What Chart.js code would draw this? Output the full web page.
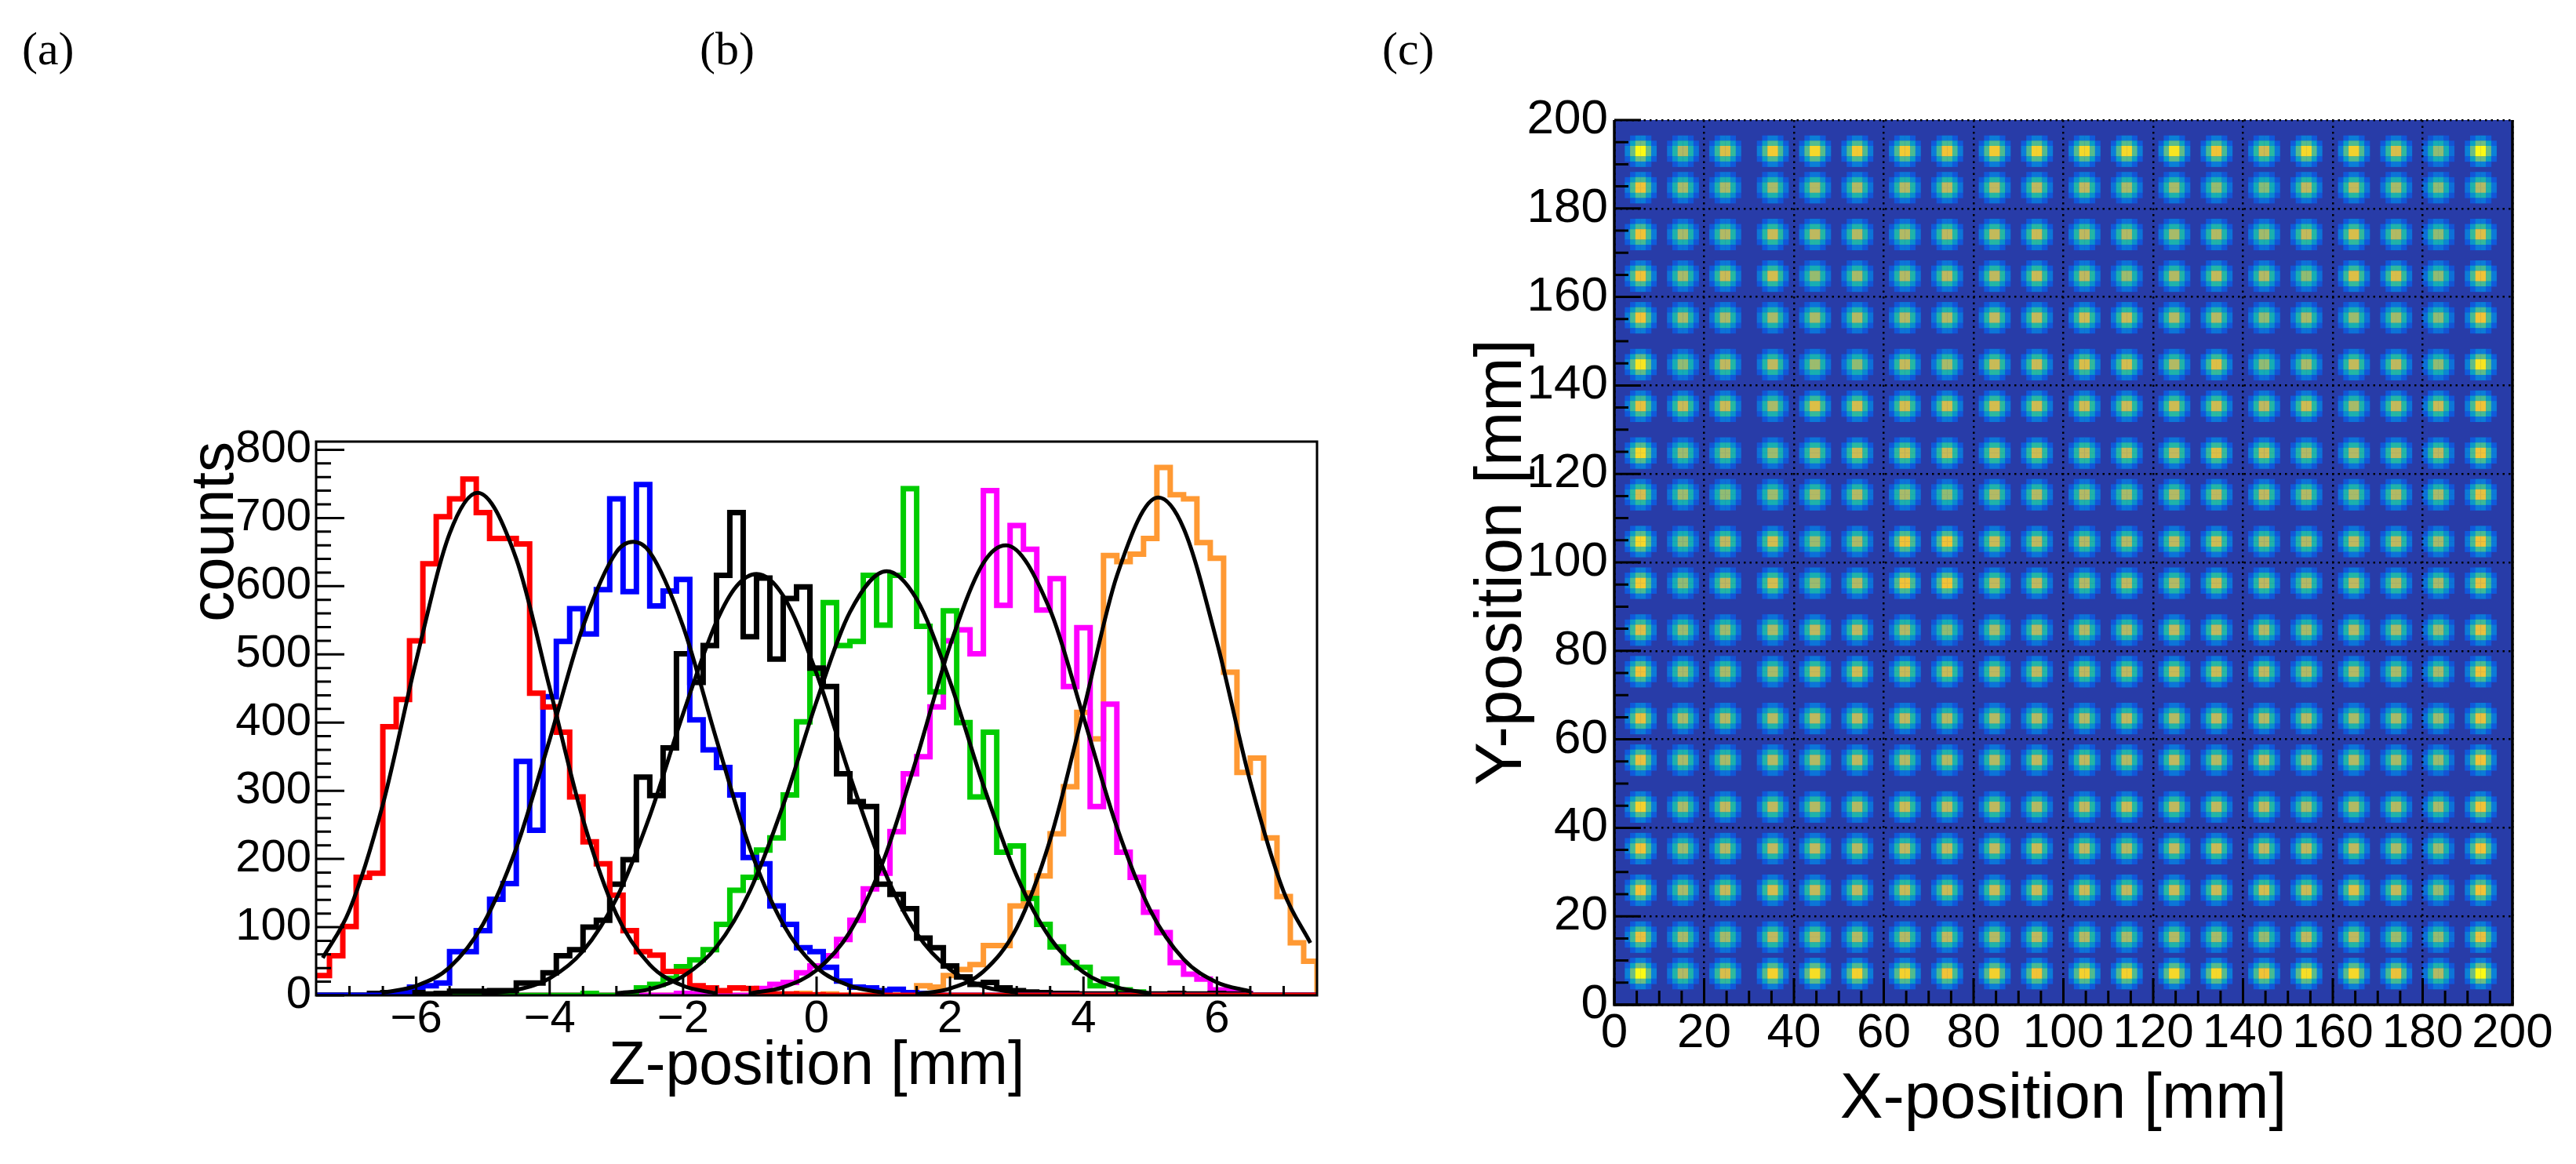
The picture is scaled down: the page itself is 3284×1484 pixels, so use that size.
<!DOCTYPE html>
<html>
<head>
<meta charset="utf-8">
<title>Z and XY position</title>
<script src="https://cdn.jsdelivr.net/npm/chart.js@4/dist/chart.umd.min.js"></script>
<style>
    html, body { margin: 0; padding: 0; background: #fff; }
    #page { position: relative; width: 3284px; height: 1484px; overflow: hidden; }
    canvas { position: absolute; top: 0; }
    #chartZ { left: 0; }
    #chartXY { left: 1740px; }
    .panel { position: absolute; top: 28px; font: 60px "Liberation Serif"; color: #000; }
</style>
</head>
<body>
<div id="page">
    <canvas id="chartZ" width="1740" height="1484"></canvas>
    <canvas id="chartXY" width="1544" height="1484"></canvas>
    <div class="panel" style="left:28px">(a)</div>
    <div class="panel" style="left:892px">(b)</div>
    <div class="panel" style="left:1762px">(c)</div>
</div>

<script>
    // (b) histogram, 75 bins of 0.2 mm between -7.5 and 7.5
    var zMin = -7.5;
    var zMax = 7.5;
    var zBinWidth = 0.2;

    var redCounts = [29,58,101,173,179,394,434,520,633,702,
        728,757,708,670,670,662,443,423,386,291,
        225,193,147,95,64,59,35,35,14,11,
        7,11,10,3,2,2,1,1,0,0,
        0,0,0,0,0,0,0,0,0,0,0,0,0,0,0,0,0,0,0,0,0,0,0,0,0,0,0,0,0,0,0,0,0,0,0];
    var blueCounts = [0,0,0,0,0,0,4,12,14,18,
        64,64,95,141,164,343,242,438,519,567,
        530,595,728,592,749,571,593,610,404,360,
        334,294,202,193,131,104,70,64,41,21,
        12,11,7,9,4,3,0,0,0,0,0,0,0,0,0,0,0,0,0,0,0,0,0,0,0,0,0,0,0,0,0,0,0,0,0];
    var blackCounts = [0,0,0,0,3,4,5,4,2,3,
        6,6,6,7,7,18,18,33,58,67,
        100,110,163,199,320,293,363,501,459,513,
        616,708,526,612,493,582,599,480,453,325,
        284,277,163,148,127,84,70,43,27,16,
        19,11,7,5,4,3,3,2,2,2,
        2,3,2,2,3,2,2,3,2,2,
        0,0,0,0,0];
    var greenCounts = [0,0,0,0,0,0,0,0,0,0,0,0,0,0,0,0,0,0,0,0,
        3,0,0,1,11,16,25,42,52,67,
        104,154,173,213,231,294,401,472,576,513,
        519,616,543,616,743,541,445,564,400,291,
        386,210,219,142,104,71,48,41,14,24,
        8,5,0,0,0,0,0,0,0,0,0,0,0,0,0];
    var magentaCounts = [0,0,0,0,0,0,0,0,0,0,0,0,0,0,0,0,0,0,0,0,0,0,0,0,0,0,0,3,2,0,0,0,0,
        10,16,19,33,43,58,82,
        110,156,179,240,325,350,423,520,536,501,
        740,572,689,654,565,611,453,539,277,427,
        210,173,122,92,48,31,24,8,8,3,
        0,0,0,0,0];
    var orangeCounts = [0,0,0,0,0,0,0,0,0,0,0,0,0,0,0,0,0,0,0,0,0,0,0,0,0,0,0,0,0,0,0,0,0,0,0,0,
        3,0,2,0,0,0,0,0,0,
        14,12,29,38,45,73,73,131,150,175,
        237,306,415,376,645,636,647,670,774,734,
        728,664,641,474,327,348,231,145,77,50];

    // fitted curves, read at points along each curve
    var redFitZ = [-7.4,-7,-6.5,-6,-5.5,-5.08,-4.5,-4,-3.5,-3,-2.5,-2,-1.5];
    var redFit = [55,125,280,491,677,737,640,451,258,119,45,14,3];
    var blueFitZ = [-6.5,-6,-5.5,-5,-4.5,-4,-3.5,-3,-2.75,-2.5,-2,-1.5,-1,-0.5,0,0.5,1];
    var blueFit = [4,14,41,104,216,375,541,650,665,650,541,375,216,104,41,14,4];
    var blackFitZ = [-5,-4.5,-4,-3.5,-3,-2.5,-2,-1.5,-1.2,-0.9,-0.5,0,0.5,1,1.5,2,2.5,3];
    var blackFit = [2,8,25,65,142,263,413,548,600,618,586,472,322,186,91,38,13,4];
    var greenFitZ = [-3,-2.5,-2,-1.5,-1,-0.5,0,0.5,1.05,1.5,2,2.5,3,3.5,4,4.5,5];
    var greenFit = [3,9,28,71,153,279,431,562,622,581,460,308,175,84,34,12,3];
    var magentaFitZ = [-1,-0.5,0,0.5,1,1.5,2,2.5,2.84,3.5,4,4.5,5,5.5,6,6.5];
    var magentaFit = [3,12,37,93,197,348,513,634,660,565,408,247,125,53,19,6];
    var orangeFitZ = [1.5,2,2.5,3,3.5,4,4.5,5.12,5.5,6,6.5,7,7.4];
    var orangeFit = [2,10,35,99,228,418,615,730,685,518,313,152,77];

    var zTicks = [-6,-4,-2,0,2,4,6];
    var zMinorTicks = [-7,-6.5,-5.5,-5,-4.5,-3.5,-3,-2.5,-1.5,-1,-0.5,0.5,1,1.5,2.5,3,3.5,4.5,5,5.5,6.5,7];
    var countTicks = [0,100,200,300,400,500,600,700,800];
    var countMinorTicks = [20,40,60,80,120,140,160,180,220,240,260,280,320,340,360,380,
        420,440,460,480,520,540,560,580,620,640,660,680,720,740,760,780];

    // (c) map: spot centres in mm and the peak height of each spot, in percent
    var spotCols = [5.7,15.2,25.2,34.8,44.6,54.6,64.6,74.6,84.3,94.5,104.7,114.6,124.6,134.3,144.4,154.4,164.2,173.7,183.6,193.2];
    var spotRows = [193.5,184.5,174.6,164.8,155,145,135,125,115,105,95,85,75,65,55,45,35,25.5,15.5,6.6];
    var spotPeaks = [
        [100,80,88,93,95,93,93,92,93,94,95,95,97,92,85,95,94,87,74,100],
        [92,78,78,78,80,80,80,82,82,82,82,78,78,75,72,82,83,78,74,80],
        [92,78,80,84,82,80,80,82,83,84,82,80,78,80,77,83,87,80,74,88],
        [92,78,84,86,75,78,80,82,82,84,82,76,80,83,80,74,88,87,74,92],
        [92,78,78,78,78,80,80,80,82,83,85,84,80,80,74,78,76,77,74,92],
        [97,74,82,82,76,74,83,78,84,84,87,86,80,88,74,78,83,82,74,97],
        [90,84,84,78,88,86,86,86,86,85,85,84,85,85,82,85,78,83,84,92],
        [95,76,78,76,82,85,86,84,84,85,83,83,83,88,85,80,80,82,82,92],
        [86,76,74,76,80,80,78,74,80,80,80,78,80,82,82,80,78,80,78,90],
        [95,74,82,86,76,79,92,92,84,82,80,80,82,85,80,80,82,82,78,92],
        [93,74,82,86,76,80,92,92,83,82,80,82,80,84,82,80,82,80,78,90],
        [88,76,76,78,82,82,80,74,78,80,80,80,82,82,80,78,80,78,76,90],
        [92,78,78,78,84,85,84,84,82,82,82,82,84,84,82,80,80,78,78,92],
        [90,78,80,80,82,82,82,80,80,80,80,82,80,82,80,80,78,78,76,90],
        [90,78,78,80,80,82,80,80,80,82,82,80,82,80,82,80,80,78,76,92],
        [94,78,82,82,80,80,84,82,82,80,82,84,82,82,82,78,80,80,78,92],
        [92,76,80,82,82,80,82,82,82,84,82,80,82,84,82,82,82,78,76,92],
        [92,78,83,86,83,82,84,84,84,84,84,82,84,84,86,84,88,83,75,92],
        [90,78,77,82,82,80,80,82,80,82,80,78,80,78,75,82,82,76,75,90],
        [100,80,87,94,96,94,94,92,94,92,94,94,95,95,92,96,95,91,80,100]
    ];
    // shape of one spot on the map bins, as seen in the picture
    var spotShape = [
        [0,0.14,0.3,0.3,0.14,0],
        [0.14,0.44,0.68,0.68,0.44,0.14],
        [0.3,0.68,1,1,0.68,0.3],
        [0.3,0.68,1,1,0.68,0.3],
        [0.14,0.44,0.68,0.68,0.44,0.14],
        [0,0.14,0.3,0.3,0.14,0]
    ];
    var mapBins = 170;
    var mapTicks = [0,20,40,60,80,100,120,140,160,180,200];
    var mapMinorTicks = [5,10,15,25,30,35,45,50,55,65,70,75,85,90,95,105,110,115,125,130,135,145,150,155,165,170,175,185,190,195];

    var paletteStops = [0,0.12,0.3,0.45,0.58,0.7,0.82,0.92,1];
    var paletteColors = [[40,60,168],[16,88,220],[10,130,215],[8,165,195],[40,185,160],[120,190,125],[190,185,95],[240,195,55],[252,250,20]];

    function mapColor(v) {
        for (var i = 1; i < paletteStops.length; i++) {
            if (v <= paletteStops[i]) {
                var t = (v - paletteStops[i - 1]) / (paletteStops[i] - paletteStops[i - 1]);
                var a = paletteColors[i - 1], b = paletteColors[i];
                return 'rgb(' + Math.round(a[0] + (b[0] - a[0]) * t) + ',' + Math.round(a[1] + (b[1] - a[1]) * t) + ',' + Math.round(a[2] + (b[2] - a[2]) * t) + ')';
            }
        }
        return 'rgb(252,250,20)';
    }

    function histPoints(counts) {
        var pts = [];
        for (var k = 0; k < counts.length; k++) {
            pts.push({ x: zMin + k * zBinWidth, y: counts[k] });
        }
        pts.push({ x: zMax, y: counts[counts.length - 1] });
        pts.push({ x: zMax, y: 0 });
        return pts;
    }

    function fitPoints(zs, values) {
        return zs.map(function (z, i) { return { x: z, y: values[i] }; });
    }

    function histSet(label, counts, color, order) {
        return {
            label: label, data: histPoints(counts), borderColor: color, borderWidth: 7,
            stepped: true, pointRadius: 0, fill: false, order: order,
            borderJoinStyle: 'miter', borderCapStyle: 'butt'
        };
    }

    function fitSet(label, zs, values) {
        return {
            label: label, data: fitPoints(zs, values), borderColor: '#000', borderWidth: 5,
            cubicInterpolationMode: 'monotone', pointRadius: 0, fill: false, order: 0
        };
    }

    // ticks inside the frame, ROOT style, plus frame and background
    function framePlugin(cfg) {
        return {
            id: 'frame',
            beforeDatasetsDraw: function (chart) {
                if (!cfg.background) return;
                var a = chart.chartArea;
                chart.ctx.save();
                chart.ctx.fillStyle = cfg.background;
                chart.ctx.fillRect(a.left, a.top, a.right - a.left, a.bottom - a.top);
                chart.ctx.restore();
            },
            afterDatasetsDraw: function (chart) {
                var ctx = chart.ctx, a = chart.chartArea, sx = chart.scales.x, sy = chart.scales.y;
                function xTick(v, len) {
                    var p = sx.getPixelForValue(v);
                    ctx.moveTo(p, a.bottom);
                    ctx.lineTo(p, a.bottom - len);
                }
                function yTick(v, len) {
                    var p = sy.getPixelForValue(v);
                    ctx.moveTo(a.left, p);
                    ctx.lineTo(a.left + len, p);
                }
                ctx.save();
                ctx.strokeStyle = '#000';
                ctx.lineWidth = cfg.tickWidth;
                ctx.beginPath();
                cfg.xMajor.forEach(function (v) { xTick(v, cfg.xMajorLen); });
                cfg.xMinor.forEach(function (v) { xTick(v, cfg.xMinorLen); });
                cfg.yMajor.forEach(function (v) { yTick(v, cfg.yMajorLen); });
                cfg.yMinor.forEach(function (v) { yTick(v, cfg.yMinorLen); });
                ctx.stroke();
                ctx.lineWidth = cfg.frameWidth;
                ctx.beginPath();
                ctx.moveTo(a.left, a.top);
                ctx.lineTo(a.left, a.bottom);
                ctx.lineTo(a.right, a.bottom);
                ctx.lineTo(a.right, a.top);
                if (cfg.closeTop) ctx.closePath();
                ctx.stroke();
                ctx.restore();
            }
        };
    }

    function axisFont(size) {
        return { family: '"Liberation Sans"', size: size, lineHeight: 1.2 };
    }

    function createGraphZ() {
        var ctx = document.getElementById('chartZ').getContext('2d');
        new Chart(ctx, {
            type: 'line',
            data: {
                datasets: [
                    fitSet('fit red', redFitZ, redFit),
                    fitSet('fit blue', blueFitZ, blueFit),
                    fitSet('fit black', blackFitZ, blackFit),
                    fitSet('fit green', greenFitZ, greenFit),
                    fitSet('fit magenta', magentaFitZ, magentaFit),
                    fitSet('fit orange', orangeFitZ, orangeFit),
                    histSet('red', redCounts, '#ff0000', 1),
                    histSet('blue', blueCounts, '#0000ff', 2),
                    histSet('black', blackCounts, '#000000', 3),
                    histSet('green', greenCounts, '#00cc00', 4),
                    histSet('magenta', magentaCounts, '#ff00ff', 5),
                    histSet('orange', orangeCounts, '#ff9933', 6)
                ]
            },
            options: {
                responsive: false,
                animation: false,
                events: [],
                layout: { padding: { left: 236, top: 563, right: 61, bottom: 85 } },
                plugins: { legend: { display: false }, tooltip: { enabled: false } },
                scales: {
                    x: {
                        type: 'linear', min: zMin, max: zMax, bounds: 'data',
                        afterBuildTicks: function (axis) { axis.ticks = zTicks.map(function (v) { return { value: v }; }); },
                        afterFit: function (axis) { axis.height = 130; },
                        grid: { display: false, drawTicks: false }, border: { display: false },
                        ticks: {
                            color: '#000', font: axisFont(58), padding: -4, autoSkip: false, maxRotation: 0,
                            callback: function (v) { return String(v).replace('-', '\u2212'); }
                        },
                        title: { display: true, text: 'Z-position [mm]', color: '#000', font: { family: '"Liberation Sans"', size: 77, lineHeight: 1 }, padding: 0 }
                    },
                    y: {
                        type: 'linear', min: 0, max: 812, bounds: 'data',
                        afterBuildTicks: function (axis) { axis.ticks = countTicks.map(function (v) { return { value: v }; }); },
                        afterFit: function (axis) { axis.width = 167; },
                        grid: { display: false, drawTicks: false }, border: { display: false },
                        ticks: { color: '#000', font: axisFont(58), padding: 6, autoSkip: false },
                        title: { display: true, text: 'counts', align: 'end', color: '#000', font: { family: '"Liberation Sans"', size: 78, lineHeight: 1 }, padding: 0 }
                    }
                }
            },
            plugins: [framePlugin({
                tickWidth: 3, frameWidth: 3, closeTop: true,
                xMajor: zTicks, xMinor: zMinorTicks, xMajorLen: 24, xMinorLen: 12,
                yMajor: countTicks, yMinor: countMinorTicks, yMajorLen: 36, yMinorLen: 19
            })]
        });
    }

    function mapCells() {
        var cells = [], colors = [];
        var binSize = 200 / mapBins;
        for (var r = 0; r < spotRows.length; r++) {
            for (var c = 0; c < spotCols.length; c++) {
                var ci = Math.round(spotCols[c] / binSize);
                var ri = Math.round(spotRows[r] / binSize);
                for (var a = 0; a < spotShape.length; a++) {
                    for (var b = 0; b < spotShape[a].length; b++) {
                        if (spotShape[a][b] === 0) continue;
                        cells.push({ x: (ci - 3 + b + 0.5) * binSize, y: (ri + 2 - a + 0.5) * binSize });
                        colors.push(mapColor(spotShape[a][b] * spotPeaks[r][c] / 100));
                    }
                }
            }
        }
        return { cells: cells, colors: colors };
    }

    function createGraphXY() {
        var ctx = document.getElementById('chartXY').getContext('2d');
        var map = mapCells();
        new Chart(ctx, {
            type: 'scatter',
            data: {
                datasets: [{
                    label: 'map', data: map.cells, pointStyle: 'rect', pointRadius: 4.95, borderWidth: 0,
                    pointBorderWidth: 0, pointBackgroundColor: map.colors
                }]
            },
            options: {
                responsive: false,
                animation: false,
                events: [],
                layout: { padding: { left: 135, top: 153, right: 81, bottom: 41 } },
                plugins: { legend: { display: false }, tooltip: { enabled: false } },
                scales: {
                    x: {
                        type: 'linear', min: 0, max: 200, bounds: 'data',
                        afterBuildTicks: function (axis) { axis.ticks = mapTicks.map(function (v) { return { value: v }; }); },
                        afterFit: function (axis) { axis.height = 162; },
                        grid: { color: '#000', lineWidth: 2.5, drawTicks: false, z: 1 }, border: { display: false, dash: [2.5, 5] },
                        ticks: { color: '#000', font: axisFont(62), padding: 0, autoSkip: false, maxRotation: 0 },
                        title: { display: true, text: 'X-position [mm]', color: '#000', font: { family: '"Liberation Sans"', size: 82, lineHeight: 1 }, padding: 0 }
                    },
                    y: {
                        type: 'linear', min: 0, max: 200, bounds: 'data',
                        afterBuildTicks: function (axis) { axis.ticks = mapTicks.map(function (v) { return { value: v }; }); },
                        afterFit: function (axis) { axis.width = 183; },
                        grid: { color: '#000', lineWidth: 2.5, drawTicks: false, z: 1 }, border: { display: false, dash: [2.5, 5] },
                        ticks: { color: '#000', font: axisFont(62), padding: 8, autoSkip: false },
                        title: { display: true, text: 'Y-position [mm]', color: '#000', font: { family: '"Liberation Sans"', size: 83, lineHeight: 1 }, padding: 0 }
                    }
                }
            },
            plugins: [framePlugin({
                background: 'rgb(40,60,168)', tickWidth: 3, frameWidth: 3.5, closeTop: false,
                xMajor: mapTicks, xMinor: mapMinorTicks, xMajorLen: 34, xMinorLen: 18,
                yMajor: mapTicks, yMinor: mapMinorTicks, yMajorLen: 34, yMinorLen: 18
            })]
        });
    }

    createGraphZ();
    createGraphXY();
</script>
</body>
</html>
